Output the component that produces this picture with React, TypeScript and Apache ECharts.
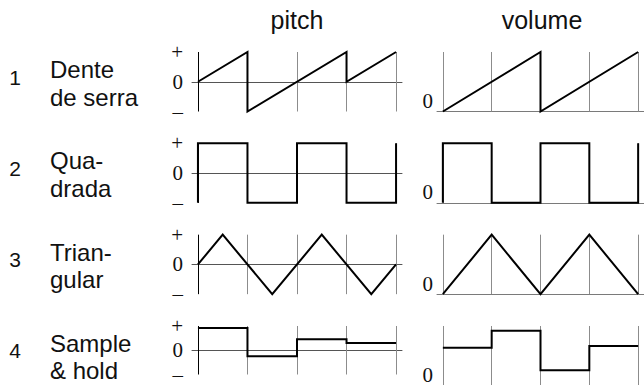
import React, { useEffect, useRef } from 'react';
import * as echarts from 'echarts';

// ---------- data ----------
const columnTitles = ['pitch', 'volume'];
const rowNumbers = ['1', '2', '3', '4'];
const rowNames = [
  ['Dente', 'de serra'],
  ['Qua-', 'drada'],
  ['Trian-', 'gular'],
  ['Sample', '& hold'],
];
const gridX = [0, 1, 2, 3, 4];
const pitchTickLabels: Record<string, string> = { '-1': '–', '0': '0', '1': '+' };
const volumeTickLabels: Record<string, string> = { '0': '0', '1': '' };

// waveforms as [x, y]; pitch y in -1..1, volume y in 0..1
const pitchSaw = [[0, 0], [1, 1], [1, -1], [3, 1], [3, 0], [4, 1]];
const pitchSquare = [[0, -1], [0, 1], [1, 1], [1, -1], [2, -1], [2, 1], [3, 1], [3, -1], [4, -1], [4, 1]];
const pitchTriangle = [[0, 0], [0.5, 1], [1.5, -1], [2.5, 1], [3.5, -1], [4, 0]];
const pitchSampleHold = [0.92, -0.25, 0.45, 0.3];

const volumeSaw = [[0, 0], [2, 1], [2, 0], [4, 1]];
const volumeSquare = [[0, 0], [0, 1], [1, 1], [1, 0], [2, 0], [2, 1], [3, 1], [3, 0], [4, 0], [4, 1]];
const volumeTriangle = [[0, 0], [1, 1], [2, 0], [3, 1], [4, 0]];
const volumeSampleHold = [0.63, 0.92, 0.25, 0.66];

// ---------- layout ----------
const W = 644;
const H = 385;
const ROW_TOP0 = 52;
const ROW_STEP = 91.33;
const PLOT_H = 59.5;
const PITCH_LEFT = 192;
const VOLUME_LEFT = 437;
const PANEL_W = 210;
const X_PAD = 0.12;
const TEXT_FONT = '"Liberation Sans", Arial, sans-serif';
const TICK_FONT = '"Liberation Serif", serif';
const GRID_GRAY = '#8c8c8c';
const NAME_LINE_H = 27.5;

const holdToPoints = (levels: number[]) => {
  const pts = levels.map((v, i) => [i, v]);
  pts.push([levels.length, levels[levels.length - 1]]);
  return pts;
};

export default function App() {
  const ref = useRef<HTMLDivElement>(null);

  useEffect(() => {
    if (!ref.current) return;
    const chart = echarts.init(ref.current, null, { renderer: 'svg' });

    const pitchData = [pitchSaw, pitchSquare, pitchTriangle, holdToPoints(pitchSampleHold)];
    const volumeData = [volumeSaw, volumeSquare, volumeTriangle, holdToPoints(volumeSampleHold)];

    const grids: any[] = [];
    const xAxes: any[] = [];
    const yAxes: any[] = [];
    const series: any[] = [];

    for (let r = 0; r < 4; r++) {
      const top = ROW_TOP0 + r * ROW_STEP;
      for (let c = 0; c < 2; c++) {
        const isPitch = c === 0;
        const idx = grids.length;
        grids.push({
          left: isPitch ? PITCH_LEFT : VOLUME_LEFT,
          top,
          width: PANEL_W,
          height: PLOT_H,
          containLabel: false,
        });
        xAxes.push({
          type: 'value',
          gridIndex: idx,
          min: -X_PAD,
          max: gridX[gridX.length - 1] + X_PAD,
          axisLine: {
            show: true,
            onZero: true,
            lineStyle: { color: isPitch ? '#555' : '#7a7a7a', width: 1 },
          },
          axisTick: { show: false },
          axisLabel: { show: false },
          splitLine: { show: false },
        });
        yAxes.push({
          type: 'value',
          gridIndex: idx,
          min: isPitch ? -1 : 0,
          max: 1,
          interval: 1,
          axisLine: { show: false },
          axisTick: { show: false },
          splitLine: { show: false },
          axisLabel: {
            show: true,
            margin: isPitch ? 9 : 4,
            fontFamily: TICK_FONT,
            fontSize: 21,
            color: '#111',
            verticalAlign: isPitch ? 'middle' : 'bottom',
            formatter: (v: number) =>
              isPitch ? pitchTickLabels[String(v)] ?? '' : volumeTickLabels[String(v)] ?? '',
          },
        });
        const rowData = isPitch ? pitchData[r] : volumeData[r];
        series.push({
          type: 'line',
          xAxisIndex: idx,
          yAxisIndex: idx,
          data: rowData,
          step: r === 3 ? 'end' : false,
          showSymbol: false,
          symbol: 'none',
          clip: false,
          z: 3,
          lineStyle: { color: '#000', width: 2, join: 'miter', cap: 'butt' },
          markLine: {
            silent: true,
            symbol: 'none',
            z: 1,
            animation: false,
            label: { show: false },
            lineStyle: { color: GRID_GRAY, width: 1, type: 'solid' },
            emphasis: { disabled: true },
            data: gridX.map((x) => ({
              xAxis: x,
              lineStyle:
                isPitch && x === 0
                  ? { color: '#000', width: 1, type: 'solid' }
                  : { color: GRID_GRAY, width: 1, type: 'solid' },
            })),
          },
        });
      }
    }

    const graphics: any[] = [];
    columnTitles.forEach((t, c) => {
      const left = c === 0 ? PITCH_LEFT : VOLUME_LEFT;
      graphics.push({
        type: 'text',
        x: left + PANEL_W / 2,
        y: 20,
        style: {
          text: t,
          font: `25px ${TEXT_FONT}`,
          fill: '#111',
          textAlign: 'center',
          textVerticalAlign: 'middle',
        },
      });
    });
    rowNumbers.forEach((n, r) => {
      const top = ROW_TOP0 + r * ROW_STEP;
      graphics.push({
        type: 'text',
        x: 15,
        y: top + 25,
        style: {
          text: n,
          font: `21px ${TEXT_FONT}`,
          fill: '#111',
          textAlign: 'center',
          textVerticalAlign: 'middle',
        },
      });
      graphics.push({
        type: 'text',
        x: 50,
        y: top + 3.75,
        style: {
          text: rowNames[r].join('\n'),
          font: `24px ${TEXT_FONT}`,
          lineHeight: NAME_LINE_H,
          fill: '#111',
          textAlign: 'left',
          textVerticalAlign: 'top',
        },
      });
    });

    chart.setOption({
      animation: false,
      backgroundColor: '#fff',
      grid: grids,
      xAxis: xAxes,
      yAxis: yAxes,
      series,
      graphic: graphics,
    });

    return () => chart.dispose();
  }, []);

  return (
    <div
      ref={ref}
      style={{ position: 'absolute', left: 0, top: 0, width: W, height: H }}
    />
  );
}
